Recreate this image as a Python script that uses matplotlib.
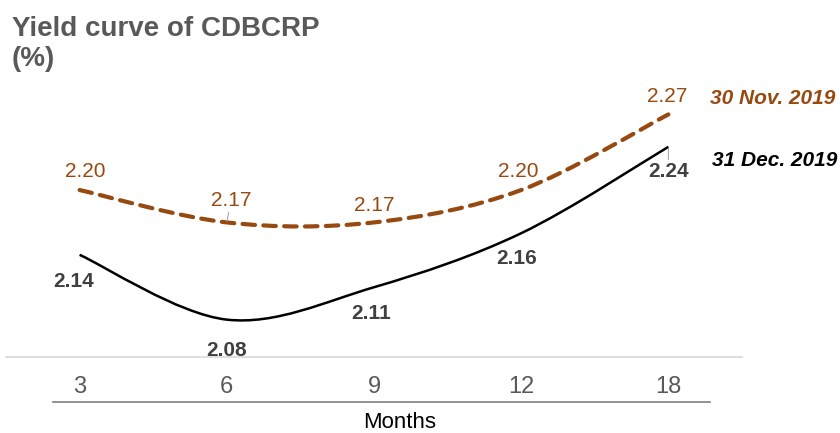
import numpy as np
import matplotlib.pyplot as plt
from matplotlib.path import Path
from matplotlib.patches import PathPatch
from matplotlib.lines import Line2D

plt.rcParams['font.family'] = ['Liberation Sans', 'DejaVu Sans']

# 数据
months = ['3', '6', '9', '12', '18']
nov_2019 = [2.20, 2.17, 2.17, 2.20, 2.27]
dec_2019 = [2.14, 2.08, 2.11, 2.16, 2.24]

brown = '#974A10'
dark = '#404040'
gray = '#595959'


def smooth_path(xs, ys):
    # Excel风格的平滑曲线 (Bezier)
    xs = np.asarray(xs, float)
    ys = np.asarray(ys, float)
    n = len(xs)
    verts = [(xs[0], ys[0])]
    codes = [Path.MOVETO]
    for i in range(n - 1):
        p0 = (xs[max(i - 1, 0)], ys[max(i - 1, 0)])
        p1 = (xs[i], ys[i])
        p2 = (xs[i + 1], ys[i + 1])
        p3 = (xs[min(i + 2, n - 1)], ys[min(i + 2, n - 1)])
        c1 = (p1[0] + (p2[0] - p0[0]) / 6, p1[1] + (p2[1] - p0[1]) / 6)
        c2 = (p2[0] - (p3[0] - p1[0]) / 6, p2[1] - (p3[1] - p1[1]) / 6)
        verts += [c1, c2, p2]
        codes += [Path.CURVE4] * 3
    return Path(verts, codes)


fig = plt.figure(figsize=(8.4, 4.33), dpi=100)
ax = fig.add_axes([6 / 840, 76 / 433, 736 / 840, 267 / 433])

x = np.arange(len(months))
ax.add_patch(PathPatch(smooth_path(x, nov_2019), facecolor='none', edgecolor=brown,
                       lw=3, linestyle=(0, (3, 2)), capstyle='round'))
ax.add_patch(PathPatch(smooth_path(x, dec_2019), facecolor='none', edgecolor='black', lw=1.8))

ax.set_xlim(-0.5, 4.5)
ax.set_ylim(2.0454, 2.2926)

# 数据标签
nov_off = [(4, 13), (3, 16), (0, 12), (-2, 13), (-1, 13)]
dec_off = [(-4, -19), (0, -22), (-2, -19), (-3, -18), (0, -18)]
for i, v in enumerate(nov_2019):
    kw = {}
    if i == 1:
        kw = dict(arrowprops=dict(arrowstyle='-', color='#A6A6A6', lw=0.8, shrinkA=0, shrinkB=1))
    ax.annotate(f'{v:.2f}', (x[i], v), xytext=nov_off[i], textcoords='offset points',
                ha='center', va='center', fontsize=15, color=brown, **kw)
for i, v in enumerate(dec_2019):
    kw = {}
    if i == 4:
        kw = dict(arrowprops=dict(arrowstyle='-', color='#A6A6A6', lw=0.8, shrinkA=0, shrinkB=1))
    ax.annotate(f'{v:.2f}', (x[i], v), xytext=dec_off[i], textcoords='offset points',
                ha='center', va='center', fontsize=15, color=dark, fontweight='bold', **kw)

ax.set_xticks(x)
ax.set_xticklabels(months, fontsize=17, color=gray)
ax.tick_params(axis='x', length=0, pad=14)
ax.set_yticks([])
for s in ['top', 'left', 'right']:
    ax.spines[s].set_visible(False)
ax.spines['bottom'].set_color('#D9D9D9')
ax.spines['bottom'].set_linewidth(1.2)

fig.add_artist(Line2D([53 / 840, 710 / 840], [31 / 433, 31 / 433], color='#7F7F7F', lw=1.2))
fig.text(400 / 840, 10 / 433, 'Months', ha='center', va='center', fontsize=16, color='black')

fig.text(12 / 840, 1 - 16 / 433, 'Yield curve of CDBCRP\n(%)', ha='left', va='top',
         fontsize=20, fontweight='bold', color=gray, linespacing=1.2)

fig.text(710 / 840, 1 - 98 / 433, '30 Nov. 2019', ha='left', va='center', fontsize=15,
         fontweight='bold', fontstyle='italic', color=brown)
fig.text(712 / 840, 1 - 160 / 433, '31 Dec. 2019', ha='left', va='center', fontsize=15,
         fontweight='bold', fontstyle='italic', color='black')

fig.savefig('out.png', dpi=100)
